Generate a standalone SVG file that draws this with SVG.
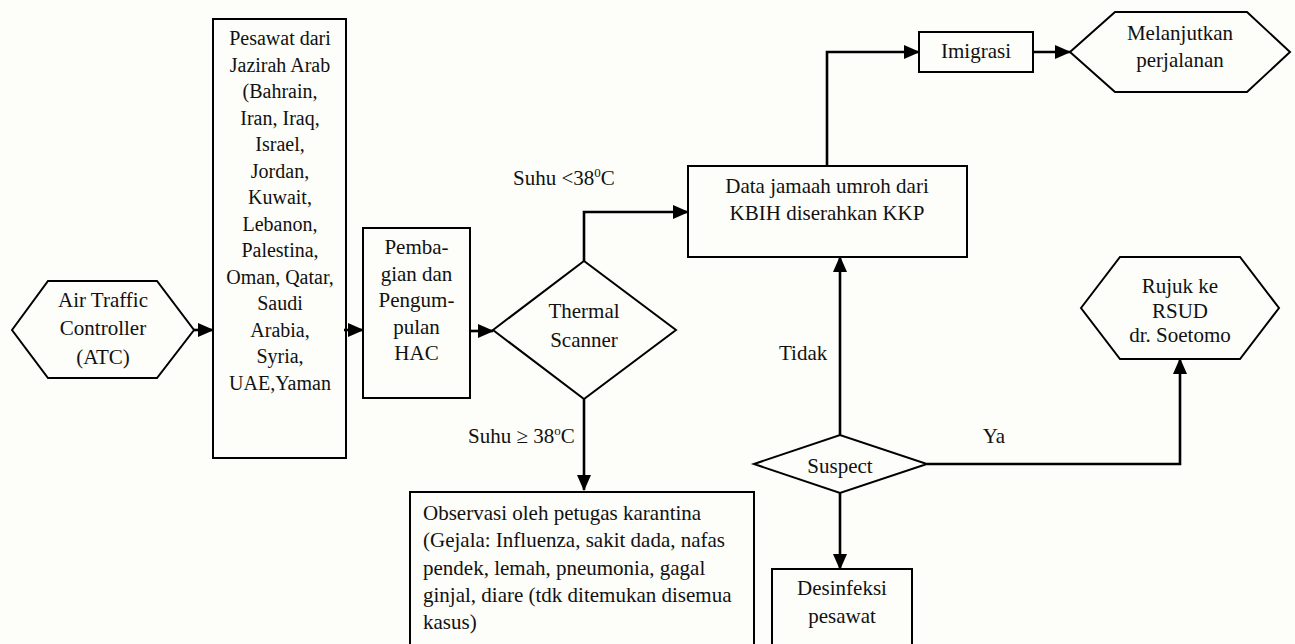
<svg xmlns="http://www.w3.org/2000/svg" width="1295" height="644" viewBox="0 0 1295 644">
<defs>
<marker id="ah" markerUnits="userSpaceOnUse" markerWidth="16" markerHeight="14" refX="15" refY="7" orient="auto">
<path d="M0,0 L16,7 L0,14 Z" fill="#000"/>
</marker>
<style>
.s{fill:none;stroke:#000;stroke-width:2}
.c{fill:none;stroke:#000;stroke-width:2.6;marker-end:url(#ah)}
text{font-family:"Liberation Serif","Times New Roman",serif;font-size:21px;fill:#111}
.m{text-anchor:middle}
.p{font-size:20px}
</style>
</defs>
<rect width="1295" height="644" fill="#fdfdf9"/>

<g id="atc">
<polygon class="s" points="12,330 48,281 157,281 194,330 157,378 48,378"/>
<text class="m" x="103" y="307">Air Traffic</text>
<text class="m" x="103" y="335">Controller</text>
<text class="m" x="103" y="364">(ATC)</text>
</g>

<g id="pesawat">
<rect class="s" x="213" y="19" width="133" height="439"/>
<text class="m p" x="280" y="45">Pesawat  dari</text>
<text class="m p" x="280" y="71.5">Jazirah Arab</text>
<text class="m p" x="280" y="98">(Bahrain,</text>
<text class="m p" x="280" y="124.5">Iran, Iraq,</text>
<text class="m p" x="280" y="151">Israel,</text>
<text class="m p" x="280" y="177.5">Jordan,</text>
<text class="m p" x="280" y="204">Kuwait,</text>
<text class="m p" x="280" y="230.5">Lebanon,</text>
<text class="m p" x="280" y="257">Palestina,</text>
<text class="m p" x="280" y="283.5">Oman, Qatar,</text>
<text class="m p" x="280" y="310">Saudi</text>
<text class="m p" x="280" y="336.5">Arabia,</text>
<text class="m p" x="280" y="363">Syria,</text>
<text class="m p" x="280" y="389.5">UAE,Yaman</text>
</g>

<g id="pembagian">
<rect class="s" x="363" y="228" width="107" height="170"/>
<text class="m" x="416.5" y="254">Pemba-</text>
<text class="m" x="416.5" y="280.5">gian dan</text>
<text class="m" x="416.5" y="307">Pengum-</text>
<text class="m" x="416.5" y="333.5">pulan</text>
<text class="m" x="416.5" y="360">HAC</text>
</g>

<g id="thermal">
<polygon class="s" points="493,330 584,261 676,330 584,399"/>
<text class="m" x="584" y="318">Thermal</text>
<text class="m" x="584" y="347">Scanner</text>
</g>

<g id="data">
<rect class="s" x="688" y="166" width="279" height="91"/>
<text class="m" x="827" y="193">Data jamaah umroh dari</text>
<text class="m" x="827" y="220">KBIH diserahkan KKP</text>
</g>

<g id="imigrasi">
<rect class="s" x="919" y="32" width="114" height="40"/>
<text class="m" x="976" y="58">Imigrasi</text>
</g>

<g id="melanjutkan">
<polygon class="s" points="1070,52 1115,12 1247,12 1290,52 1247,92 1115,92"/>
<text class="m" x="1180" y="40">Melanjutkan</text>
<text class="m" x="1180" y="67">perjalanan</text>
</g>

<g id="rujuk">
<polygon class="s" points="1081,308 1120,257 1240,257 1279,308 1240,359 1120,359"/>
<text class="m" x="1180" y="293">Rujuk ke</text>
<text class="m" x="1180" y="318">RSUD</text>
<text class="m" x="1180" y="342">dr. Soetomo</text>
</g>

<g id="suspect">
<polygon class="s" points="754,464 840,435 927,464 840,493"/>
<text class="m" x="840" y="473">Suspect</text>
</g>

<g id="observasi">
<rect class="s" x="410" y="492" width="344" height="170"/>
<text x="423" y="520">Observasi oleh petugas karantina</text>
<text x="423" y="547">(Gejala: Influenza, sakit dada, nafas</text>
<text x="423" y="575">pendek, lemah, pneumonia, gagal</text>
<text x="423" y="602">ginjal, diare (tdk ditemukan disemua</text>
<text x="423" y="629">kasus)</text>
</g>

<g id="desinfeksi">
<rect class="s" x="772" y="569" width="140" height="90"/>
<text class="m" x="842" y="595">Desinfeksi</text>
<text class="m" x="842" y="623">pesawat</text>
</g>

<g id="connectors">
<line class="c" x1="194" y1="330" x2="213" y2="330"/>
<line class="c" x1="344" y1="330" x2="363" y2="330"/>
<line class="c" x1="470" y1="331" x2="493" y2="331"/>
<polyline class="c" points="584,261 584,212 688,212"/>
<line class="c" x1="584" y1="399" x2="584" y2="490"/>
<polyline class="c" points="827,166 827,52 919,52"/>
<line class="c" x1="1033" y1="52" x2="1070" y2="52"/>
<line class="c" x1="840" y1="435" x2="840" y2="257"/>
<polyline class="c" points="927,464 1180,464 1180,359"/>
<line class="c" x1="840" y1="493" x2="840" y2="569"/>
</g>

<g id="labels">
<text x="513" y="185">Suhu &lt;38<tspan font-size="13" dy="-8">0</tspan><tspan dy="8">C</tspan></text>
<text x="468" y="443">Suhu ≥ 38<tspan font-size="13" dy="-8">o</tspan><tspan dy="8">C</tspan></text>
<text x="779" y="360">Tidak</text>
<text class="m" x="994" y="443">Ya</text>
</g>
</svg>
